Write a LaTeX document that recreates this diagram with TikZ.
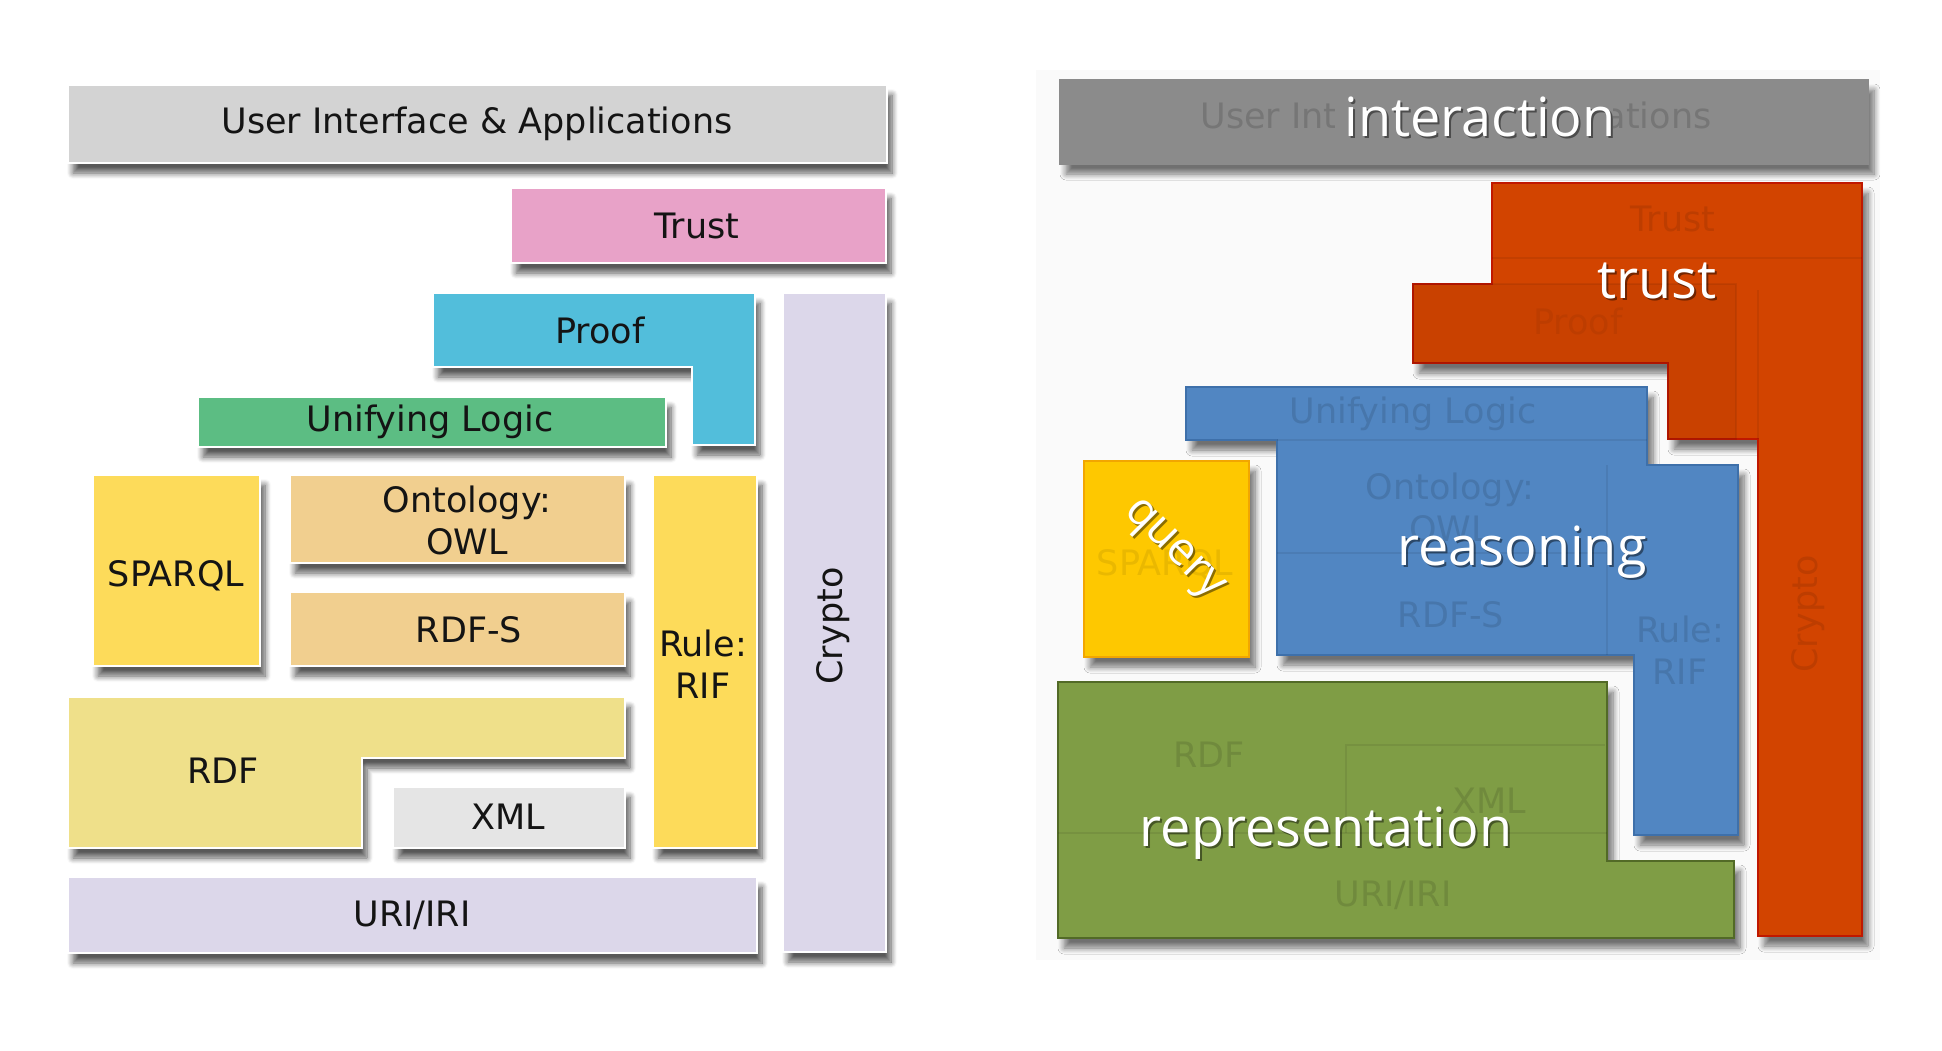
\documentclass[tikz,border=0pt]{standalone}
\usepackage{fontspec}
\setmainfont{DejaVu Sans}
\newfontfamily\tagfont{Open Sans}
\usetikzlibrary{shadows.blur}

\definecolor{uigray}{HTML}{D3D3D3}
\definecolor{trustpink}{HTML}{E8A2C8}
\definecolor{proofblue}{HTML}{52BEDB}
\definecolor{lavender}{HTML}{DCD7EA}
\definecolor{logicgreen}{HTML}{5CBD83}
\definecolor{sunyellow}{HTML}{FDDB5A}
\definecolor{owltan}{HTML}{F1CF8F}
\definecolor{rdfyellow}{HTML}{EFE08A}
\definecolor{xmlgray}{HTML}{E5E5E5}
\definecolor{bargray}{HTML}{8B8B8B}
\definecolor{trustred}{HTML}{D24400}
\definecolor{trustedge}{HTML}{C01800}
\definecolor{reasonblue}{HTML}{5186C2}
\definecolor{reasonedge}{HTML}{3E70AA}
\definecolor{queryyellow}{HTML}{FEC800}
\definecolor{queryedge}{HTML}{F2A600}
\definecolor{reprgreen}{HTML}{7F9D45}
\definecolor{repredge}{HTML}{526A27}

\tikzset{
  blk/.style={draw=white, line width=1.4pt, blur shadow={shadow xshift=2.5pt, shadow yshift=-5pt, shadow blur radius=3pt, shadow blur steps=8, shadow opacity=65}},
  grp/.style={line width=1pt, blur shadow={shadow xshift=3pt, shadow yshift=-5pt, shadow blur radius=3pt, shadow blur steps=8, shadow opacity=55}},
  lbl/.style={inner sep=0pt, text=black!92, align=center, font=\fontsize{17.5}{21}\selectfont},
  faint/.style={lbl, text=#1},
  seam/.style={draw=black, draw opacity=0.07, line width=1pt},
  tag/.style={inner sep=0pt, text=white, font=\tagfont\fontsize{27}{31}\selectfont},
  tagsh/.style={tag, text=black, text opacity=0.45},
}

\begin{document}
\begin{tikzpicture}[x=0.5pt,y=0.5pt,yscale=-1,xscale=1]
\useasboundingbox (0,0) rectangle (1942,1050);
\fill [black!2] (1036,70) rectangle (1880,960);
\draw [blk, fill=uigray] (68,85) rectangle (887,163);
\draw [blk, fill=trustpink] (511,188) rectangle (886,263);
\draw [blk, fill=proofblue] (433,293) -- (755,293) -- (755,445) -- (692,445) -- (692,367) -- (433,367) -- cycle;
\draw [blk, fill=lavender] (783,293) rectangle (886,952);
\draw [blk, fill=logicgreen] (198,397) rectangle (666,447);
\draw [blk, fill=sunyellow] (93,475) rectangle (260,666);
\draw [blk, fill=owltan] (290,475) rectangle (625,563);
\draw [blk, fill=owltan] (290,592) rectangle (625,666);
\draw [blk, fill=sunyellow] (653,475) rectangle (757,848);
\draw [blk, fill=rdfyellow] (68,697) -- (625,697) -- (625,758) -- (362,758) -- (362,848) -- (68,848) -- cycle;
\draw [blk, fill=xmlgray] (393,787) rectangle (625,848);
\draw [blk, fill=lavender] (68,877) rectangle (757,953);
\node [lbl] (ui) at (477,124) {User Interface \& Applications};
\node [lbl] (trust) at (697,226) {Trust};
\node [lbl] (proof) at (600,330) {Proof};
\node [lbl] (logic) at (430,422) {Unifying Logic};
\node [lbl] (owl) at (467,520) {Ontology:\\OWL};
\node [lbl] (sparql) at (176,576) {SPARQL};
\node [lbl] (rdfs) at (469,630) {RDF-S};
\node [lbl] (rif) at (703,664) {Rule:\\RIF};
\node [lbl, rotate=90] (crypto) at (833,626) {Crypto};
\node [lbl] (rdf) at (223,771) {RDF};
\node [lbl] (xml) at (508,817) {XML};
\node [lbl] (uri) at (412,915) {URI/IRI};
\draw [grp, fill=bargray, draw=bargray] (1060,80) rectangle (1868,164);
\draw [grp, fill=trustred, draw=trustedge] (1492,183) -- (1862,183) -- (1862,936) -- (1758,936) -- (1758,439) -- (1668,439) -- (1668,363) -- (1413,363) -- (1413,284) -- (1492,284) -- cycle;
\draw [grp, fill=reasonblue, draw=reasonedge] (1186,387) -- (1647,387) -- (1647,465) -- (1738,465) -- (1738,835) -- (1634,835) -- (1634,655) -- (1277,655) -- (1277,440) -- (1186,440) -- cycle;
\draw [grp, fill=queryyellow, draw=queryedge] (1084,461) rectangle (1249,657);
\draw [grp, fill=reprgreen, draw=repredge] (1058,682) -- (1607,682) -- (1607,861) -- (1734,861) -- (1734,938) -- (1058,938) -- cycle;
\draw [seam] (1492,258) -- (1862,258);
\draw [seam, fill=black, fill opacity=0.04] (1413,284) -- (1736,284) -- (1736,439) -- (1668,439) -- (1668,363) -- (1413,363) -- cycle;
\draw [seam] (1758,290) -- (1758,439);
\draw [seam] (1277,440) -- (1647,440);
\draw [seam] (1607,465) -- (1607,655);
\draw [seam] (1277,553) -- (1607,553);
\draw [seam] (1346,833) -- (1346,745) -- (1605,745);
\draw [seam] (1058,833) -- (1607,833);
\node [faint=bargray!85!black] (uif) at (1456,119) {User Interface \& Applications};
\node [faint=trustred!90!black] (trustf) at (1673,219) {Trust};
\node [faint=trustred!90!black] (prooff) at (1578,321) {Proof};
\node [faint=reasonblue!88!black] (logicf) at (1413,414) {Unifying Logic};
\node [faint=reasonblue!88!black] (owlf) at (1450,507) {Ontology:\\OWL};
\node [faint=queryyellow!92!black] (sparqlf) at (1165,565) {SPARQL};
\node [faint=reasonblue!88!black] (rdfsf) at (1451,615) {RDF-S};
\node [faint=reasonblue!88!black] (riff) at (1680,650) {Rule:\\RIF};
\node [faint=trustred!90!black, rotate=90] (cryptof) at (1808,614) {Crypto};
\node [faint=reprgreen!88!black] (rdff) at (1209,755) {RDF};
\node [faint=reprgreen!88!black] (xmlf) at (1489,801) {XML};
\node [faint=reprgreen!88!black] (urif) at (1393,895) {URI/IRI};
\node [tag, fill=bargray, text=bargray, inner xsep=1.5pt] (intmask) at (1474,117) {interaction};
\node [tagsh] (intsh) at (1482,119) {interaction};
\node [tag] (interaction) at (1480,117) {interaction};
\node [tagsh] (trustsh) at (1659,283) {trust};
\node [tag] (trusttag) at (1657,281) {trust};
\node [tagsh] (reasonsh) at (1524,554) {reasoning};
\node [tag] (reasoning) at (1522,552) {reasoning};
\node [tagsh, rotate=-45, font=\tagfont\fontsize{23}{27}\selectfont] (querysh) at (1174,553) {query};
\node [tag, rotate=-45, font=\tagfont\fontsize{23}{27}\selectfont] (query) at (1172,551) {query};
\node [tagsh] (reprsh) at (1328,835) {representation};
\node [tag] (representation) at (1326,833) {representation};
\end{tikzpicture}
\end{document}
